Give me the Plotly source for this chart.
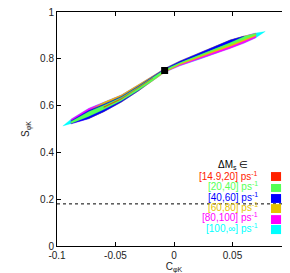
import plotly.graph_objects as go

# Band geometry
band_x = [-0.095, -0.088, -0.073, -0.06, -0.045, -0.03, -0.018, -0.008, 0.005, 0.02, 0.035, 0.048, 0.06, 0.07, 0.078]
band_center = [0.513, 0.532, 0.566, 0.594, 0.630, 0.677, 0.717, 0.750, 0.780, 0.808, 0.838, 0.862, 0.882, 0.900, 0.917]
band_half = [0.0, 0.010, 0.022, 0.020, 0.015, 0.013, 0.011, 0.008, 0.010, 0.013, 0.016, 0.018, 0.015, 0.010, 0.0]

# position of each colour inside the band (+1 = upper edge, -1 = lower edge), None = absent
N = None
cyan_top = [1] * 15
cyan_bot = [-1] * 15
magenta_top = [N, 1, 1, 1, 1, 1, 1, 1, 1, 1, 1, 1, 1, 1, N]
magenta_bot = [N, -1, -1, -1, -1, -1, -1, -1, -1, -1, -1, -1, -1, -1, N]
yellow_top = [N, N, 0.5, 1, 1, 1, 1, 1, 1, 1, 1, 1, 1, 0.6, N]
yellow_bot = [N, N, -1, -1, -1, -1, -1, -1, -0.5, -0.5, -0.5, -0.5, -0.4, -0.3, N]
blue_top = [N, 0.3, 0.6, 0.6, 0.6, 0.6, 0.6, 1, 1, 1, 1, 1, 1, N, N]
blue_bot = [N, -1, -1, -1, -1, -1, -0.6, 0.0, 0.3, 0.3, 0.3, 0.3, 0.7, N, N]
green_top = [N, 0.0, 0.35, 0.35, 0.35, 0.35, 0.35, 0.5, 0.3, 0.3, 0.3, 0.35, 0.9, 0.9, N]
green_bot = [N, -0.8, -0.55, -0.55, -0.6, -0.8, -0.9, -0.6, -0.1, -0.1, -0.1, -0.1, 0.0, 0.3, N]
red_top = [N, N, N, 0.05, 0.05, 0.05, 0.05, N, N, N, N, N, N, N, N]
red_bot = [N, N, N, -0.12, -0.12, -0.12, -0.12, N, N, N, N, N, N, N, N]

series_names = ["[14.9,20] ps<sup>-1</sup>", "[20,40] ps<sup>-1</sup>", "[40,60] ps<sup>-1</sup>",
                "[60,80] ps<sup>-1</sup>", "[80,100] ps<sup>-1</sup>", "[100,∞] ps<sup>-1</sup>"]
series_colors = ["#ff2200", "#55ff55", "#0000ff", "#e6c300", "#ff00ff", "#00ffff"]

point_x = [-0.008]
point_y = [0.75]
limit_y = 0.18

xtick_vals = [-0.1, -0.05, 0, 0.05, 0.1]
xtick_text = ["-0.1", "-0.05", "0", "0.05", "0.1"]
ytick_vals = [0, 0.2, 0.4, 0.6, 0.8, 1]
ytick_text = ["0", "0.2", "0.4", "0.6", "0.8", "1"]


def polygon(ftop, fbot):
    xs_up, ys_up, xs_dn, ys_dn = [], [], [], []
    for xv, c, h, t, b in zip(band_x, band_center, band_half, ftop, fbot):
        if t is None:
            continue
        xs_up.append(xv); ys_up.append(c + t * h)
        xs_dn.append(xv); ys_dn.append(c + b * h)
    return xs_up + xs_dn[::-1] + [xs_up[0]], ys_up + ys_dn[::-1] + [ys_up[0]]


fig = go.Figure()
layers = [
    (cyan_top, cyan_bot, series_colors[5]),
    (magenta_top, magenta_bot, series_colors[4]),
    (yellow_top, yellow_bot, series_colors[3]),
    (blue_top, blue_bot, series_colors[2]),
    (green_top, green_bot, series_colors[1]),
    (red_top, red_bot, series_colors[0]),
]
for ft, fb, col in layers:
    px, py = polygon(ft, fb)
    fig.add_trace(go.Scatter(x=px, y=py, mode="lines", fill="toself", fillcolor=col,
                             line=dict(color=col, width=0.3), hoverinfo="skip", showlegend=False))

fig.add_trace(go.Scatter(x=[-0.1, 0.1], y=[limit_y, limit_y], mode="lines",
                         line=dict(color="black", width=1, dash="dot"), showlegend=False))
fig.add_trace(go.Scatter(x=point_x, y=point_y, mode="markers",
                         marker=dict(symbol="square", color="black", size=7), showlegend=False))

# legend block
font = "Liberation Sans, Arial, sans-serif"
legend_text_y = [0.301, 0.256, 0.2115, 0.1667, 0.122, 0.077]
box_top = [0.316, 0.265, 0.222, 0.179, 0.132, 0.090]
box_bot = [0.278, 0.231, 0.184, 0.141, 0.094, 0.051]
fig.add_annotation(x=0.0504, y=0.346, text="ΔM<sub>s</sub> ∈", showarrow=False,
                   font=dict(family=font, size=10, color="black"))
for name, col, ty, bt, bb in zip(series_names, series_colors, legend_text_y, box_top, box_bot):
    fig.add_annotation(x=0.0737, y=ty, text=name, showarrow=False, xanchor="right",
                       font=dict(family=font, size=10, color=col))
    fig.add_shape(type="rect", x0=0.0829, x1=0.0915, y0=bb, y1=bt,
                  fillcolor=col, line=dict(width=0))

axis_common = dict(showgrid=False, zeroline=False, showline=True, linecolor="black", linewidth=1,
                   mirror="ticks", ticks="inside", ticklen=4, tickcolor="black",
                   automargin=False, ticklabeloverflow="allow",
                   tickfont=dict(family=font, size=10, color="#222"))
fig.update_xaxes(range=[-0.1, 0.1], tickvals=xtick_vals, ticktext=xtick_text,
                 title=dict(text="C<sub>φK</sub>", font=dict(family=font, size=10, color="#222"), standoff=2),
                 **axis_common)
fig.update_yaxes(range=[0, 1], tickvals=ytick_vals, ticktext=ytick_text,
                 title=dict(text="S<sub>φK</sub>", font=dict(family=font, size=10, color="#222"), standoff=8),
                 **axis_common)
fig.update_layout(width=290, height=273, margin=dict(l=49, r=7, t=4, b=35),
                  paper_bgcolor="white", plot_bgcolor="white", showlegend=False)
fig.write_html("out.html")
